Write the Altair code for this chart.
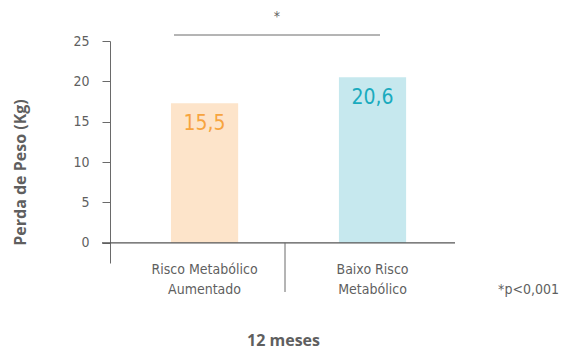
import altair as alt
import pandas as pd

# ---- data ----
categories = ["Risco Metabólico|Aumentado", "Baixo Risco|Metabólico"]
values = [17.3, 20.5]
value_labels = ["15,5", "20,6"]
y_ticks = [0, 5, 10, 15, 20, 25]
sig_text = ["*"]
note_text = ["*p<0,001"]
x_title = "12 meses"
y_title = "Perda de Peso (Kg)"

# ---- style ----
FILL = ["#FDE4CA", "#C6E8EE"]
TEXT = ["#F7A43F", "#1AABBE"]
GRAY = "#5f5f5f"
LINE = "#6a6a6a"
COND = "DejaVu Sans Condensed, sans-serif"
HUM = "Open Sans, Noto Sans, sans-serif"

df = pd.DataFrame({"cat": categories, "val": values, "lab": value_labels})

xscale = alt.Scale(domain=categories, paddingInner=0.6, paddingOuter=0.327, align=0.555)
yscale = alt.Scale(domain=[-2.5, 25], nice=False, zero=False)

x_enc = alt.X(
    "cat:N", scale=xscale, sort=categories,
    axis=alt.Axis(
        orient="bottom", domain=False, ticks=False, grid=False,
        labelExpr="split(datum.label, '|')", labelFont=COND, labelFontSize=14,
        labelLineHeight=20, labelPadding=-1, labelBaseline="top", labelColor=GRAY,
        labelAngle=0, labelLimit=0,
        title=x_title, titleFont=HUM, titleFontSize=16, titleFontWeight="bold",
        titleColor=GRAY, titleX=173, titleY=82, titleBaseline="alphabetic",
    ),
)
y_enc = alt.Y(
    "val:Q", scale=yscale,
    axis=alt.Axis(
        values=y_ticks, tickSize=8, tickColor=LINE, domainColor=LINE, grid=False,
        labelFont=COND, labelFontSize=14, labelColor=GRAY, labelPadding=13,
        title=y_title, titleFont=HUM, titleFontSize=16, titleFontWeight="bold",
        titleColor=GRAY, titleAngle=270, titleX=-90, titleY=131,
        titleAlign="center", titleBaseline="middle",
    ),
)

base = alt.Chart(df)

bars = base.mark_bar().encode(
    x=x_enc,
    y=y_enc,
    y2=alt.datum(0),
    color=alt.Color("cat:N", scale=alt.Scale(domain=categories, range=FILL), legend=None),
)

labels = base.mark_text(baseline="alphabetic", dy=27, fontSize=21, font=COND).encode(
    x=alt.X("cat:N", scale=xscale, sort=categories),
    y=alt.Y("val:Q", scale=yscale),
    text="lab:N",
    color=alt.Color("cat:N", scale=alt.Scale(domain=categories, range=TEXT), legend=None),
)

zero_df = pd.DataFrame({"y": [0]})
zero_line = alt.Chart(zero_df).mark_rule(color="#555555", strokeWidth=1.2).encode(
    y=alt.Y("y:Q", scale=yscale), x=alt.value(-8), x2=alt.value(345)
)
separator = alt.Chart(zero_df).mark_rule(color=LINE, strokeWidth=1).encode(
    y=alt.Y("y:Q", scale=yscale), y2=alt.value(251), x=alt.value(175)
)
sig_line = alt.Chart(zero_df).mark_rule(color=LINE, strokeWidth=1).encode(
    x=alt.value(64), x2=alt.value(270), y=alt.value(-6)
)
star = alt.Chart(pd.DataFrame({"t": sig_text})).mark_text(
    font=COND, fontSize=14, color=GRAY, baseline="middle"
).encode(x=alt.value(167), y=alt.value(-24), text="t:N")
note = alt.Chart(pd.DataFrame({"t": note_text})).mark_text(
    font=COND, fontSize=14, color=GRAY, align="right", baseline="alphabetic"
).encode(x=alt.value(449), y=alt.value(253), text="t:N")

chart = alt.layer(bars, labels, zero_line, separator, sig_line, star, note).resolve_scale(
    color="independent"
).properties(
    width=345, height=222,
    autosize=alt.AutoSizeParams(type="none"),
    padding={"left": 110, "top": 41, "right": 106, "bottom": 86},
).configure_view(stroke=None)

chart.save("out.html", embed_options={"renderer": "svg", "actions": False})
